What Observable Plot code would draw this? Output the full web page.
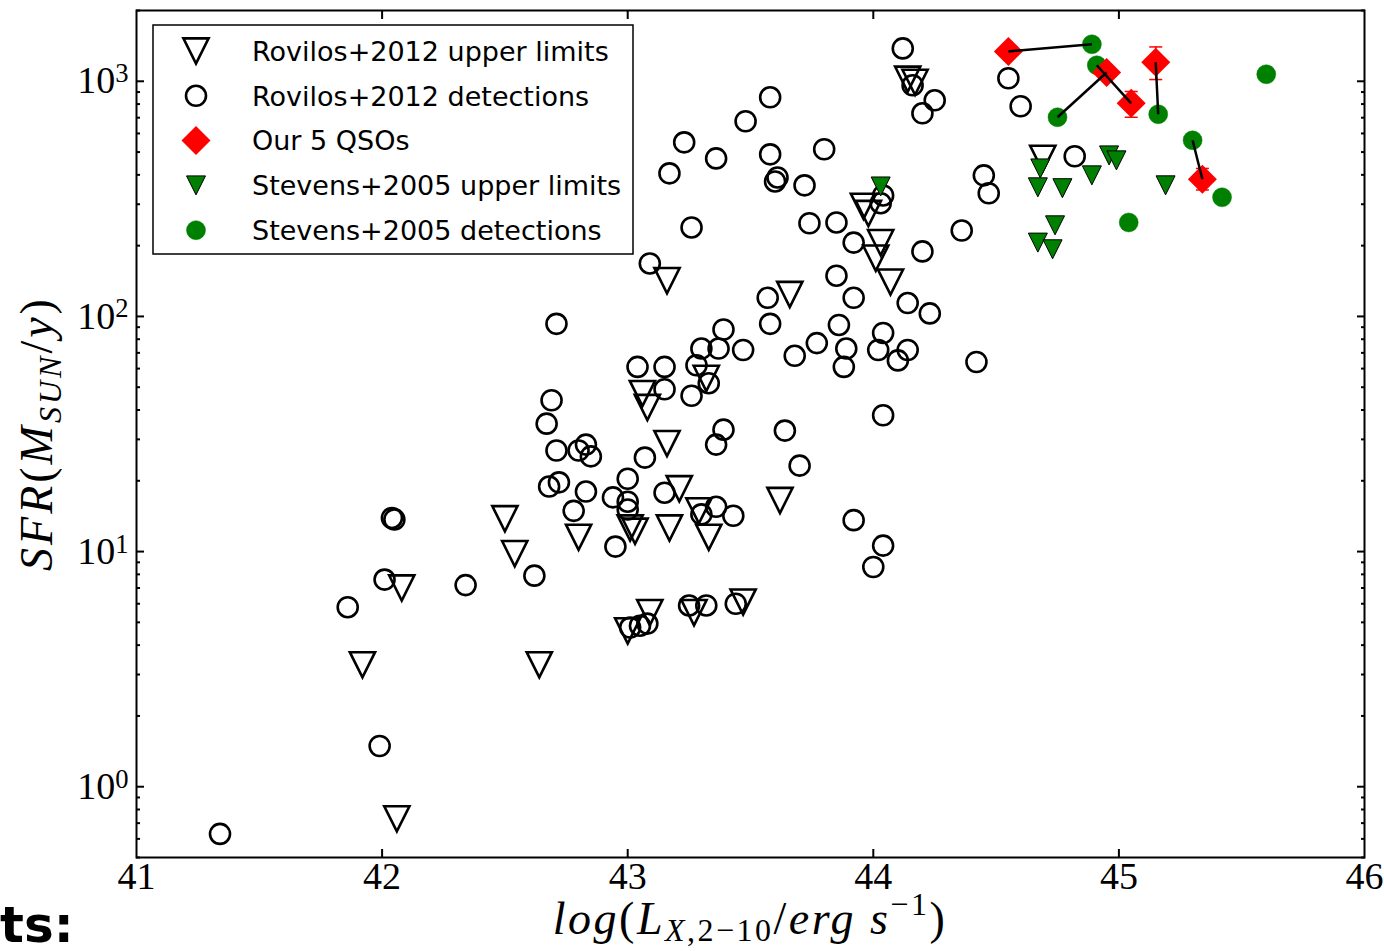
<!DOCTYPE html>
<html>
<head>
<meta charset="utf-8">
<script src="https://cdn.jsdelivr.net/npm/d3@7"></script>
<script src="https://cdn.jsdelivr.net/npm/@observablehq/plot@0.6"></script>
<style>
  body { margin: 0; background: #fff; }
  #chart svg { display: block; }
</style>
</head>
<body>
<div id="chart"></div>
<script>
// ---------------- DATA ----------------
// x: log(L_X,2-10 / erg s^-1), y: SFR (M_sun / yr)
const rovilosUL_logLx = [42.06, 41.92, 42.64, 42.08, 42.50, 42.54, 42.80, 43.00, 43.09, 43.27, 43.47,
  43.01, 43.03, 43.17, 43.29, 43.33, 43.21, 43.16, 43.06, 43.08, 43.32, 43.62, 43.16, 43.66,
  43.96, 43.98, 44.03, 44.01, 44.07, 44.14, 44.17, 44.69];
const rovilosUL_sfr = [0.73, 3.3, 3.3, 7.0, 13.8, 9.8, 11.5, 4.6, 5.5, 5.5, 6.1,
  12.6, 12.2, 12.6, 14.9, 11.5, 18.5, 28.8, 47, 41, 54.5, 16.5, 142, 124,
  294, 274, 206, 177, 140, 1020, 990, 470];

const rovilosDet_logLx = [41.34, 41.99, 41.86, 42.01, 42.04, 42.05, 42.34, 42.62, 42.71, 42.69, 42.67,
  42.71, 42.80, 42.83, 42.85, 42.68, 42.72, 42.83, 42.78, 43.00, 42.94, 43.00, 43.00, 42.95,
  43.07, 43.15, 43.04, 43.15, 43.15, 43.26, 43.28, 43.30, 43.37, 43.39, 43.47, 43.33, 43.39,
  43.36, 43.36, 43.30, 43.43, 43.01, 43.05, 43.08, 43.25, 43.32, 43.44, 43.57, 43.58, 43.64,
  43.70, 43.68, 43.77, 43.86, 43.89, 43.88, 43.92, 44.04, 44.02, 44.10, 44.14, 44.14, 44.23,
  44.42, 44.04, 43.92, 44.04, 44.00, 43.58, 43.48, 43.23, 43.36, 43.17, 43.58, 43.61, 43.60,
  43.72, 43.80, 43.26, 43.74, 43.85, 43.92, 43.09, 43.85, 44.04, 44.03, 44.12, 44.16, 44.25,
  44.20, 44.55, 44.60, 44.45, 44.47, 44.36, 44.20, 44.82];
const rovilosDet_sfr = [0.63, 1.49, 5.8, 7.6, 13.9, 13.7, 7.2, 7.9, 93, 44, 35,
  26.9, 26.9, 28.5, 25.4, 18.9, 19.7, 18.0, 14.9, 20.4, 17.0, 16.3, 15.1, 10.5,
  25.1, 17.8, 61, 61, 49, 46, 62, 73, 73, 88, 72, 52, 33,
  28.5, 15.5, 14.4, 14.2, 4.75, 4.84, 4.94, 5.9, 5.9, 6.0, 120, 93, 32.7,
  23.2, 68, 77, 92, 73, 61, 120, 85, 72, 65, 72, 114, 103,
  64, 38, 13.6, 10.6, 8.6, 855, 676, 550, 470, 406, 489, 390, 375,
  361, 514, 239, 249, 251, 206, 168, 149, 327, 303, 1380, 962, 830,
  731, 1030, 783, 398, 334, 232, 189, 480];

const qso_logLx = [44.55, 44.95, 45.05, 45.15, 45.34];
const qso_sfr   = [1340, 1090, 806, 1205, 383];
const qso_errLo = [null, null, 703, 1017, 345];
const qso_errHi = [null, null, 905, 1400, 426];
const qso_stevensMatch = [0, 2, 1, 3, 4]; // index into Stevens detections

const stevensUL_logLx = [44.03, 44.68, 44.67, 44.77, 44.89, 44.96, 44.99, 45.19, 44.74, 44.67, 44.73];
const stevensUL_sfr   = [357, 426, 354, 351, 398, 484, 461, 361, 244, 206, 193];

const stevensDet_logLx = [44.89, 44.91, 44.75, 45.16, 45.30, 45.60, 45.42, 45.04];
const stevensDet_sfr   = [1436, 1170, 703, 724, 561, 1071, 321, 251];

const xTickValues = [41, 42, 43, 44, 45, 46];
const yMajorTicks = [1, 10, 100, 1000];
const legendLabels = ["Rovilos+2012 upper limits", "Rovilos+2012 detections", "Our 5 QSOs",
  "Stevens+2005 upper limits", "Stevens+2005 detections"];

// ---------------- tables ----------------
const rovUL = rovilosUL_logLx.map((x, i) => ({x, y: rovilosUL_sfr[i]}));
const rovDet = rovilosDet_logLx.map((x, i) => ({x, y: rovilosDet_sfr[i]}));
const stUL = stevensUL_logLx.map((x, i) => ({x, y: stevensUL_sfr[i]}));
const stDet = stevensDet_logLx.map((x, i) => ({x, y: stevensDet_sfr[i]}));
const qso = qso_logLx.map((x, i) => ({x, y: qso_sfr[i], lo: qso_errLo[i], hi: qso_errHi[i]}));
const qsoErr = qso.filter(d => d.lo != null);
const qsoCaps = qsoErr.flatMap(d => [{x: d.x, y: d.lo}, {x: d.x, y: d.hi}]);
const links = qso.map((d, i) => ({x1: d.x, y1: d.y, x2: stDet[qso_stevensMatch[i]].x, y2: stDet[qso_stevensMatch[i]].y}));

const yMinorTicks = [];
for (const dec of [0.1, 1, 10, 100, 1000]) for (let k = 2; k <= 9; k++) {
  const v = +(dec * k).toPrecision(3);
  if (v >= 0.5 && v <= 2000) yMinorTicks.push(v);
}

// ---------------- custom symbols ----------------
const triDown = {draw(ctx, size) { const r = Math.sqrt(size / Math.PI);
  ctx.moveTo(-r, -r); ctx.lineTo(r, -r); ctx.lineTo(0, r); ctx.closePath(); }};
const diamond = {draw(ctx, size) { const r = Math.sqrt(size / Math.PI);
  ctx.moveTo(0, -r); ctx.lineTo(r, 0); ctx.lineTo(0, r); ctx.lineTo(-r, 0); ctx.closePath(); }};
const hbar = {draw(ctx, size) { const r = Math.sqrt(size / Math.PI);
  ctx.moveTo(-r, 0); ctx.lineTo(r, 0); }};
const circ = {draw(ctx, size) { const r = Math.sqrt(size / Math.PI);
  ctx.moveTo(r, 0); ctx.arc(0, 0, r, 0, 2 * Math.PI); }};

const GREEN = "#008000", RED = "#ff0000";
const W = 1384, H = 951, ML = 136, MR = 20, MT = 10, MB = 94;
const noText = () => "";

const plot = Plot.plot({
  width: W, height: H,
  marginLeft: ML, marginRight: MR, marginTop: MT, marginBottom: MB,
  x: {domain: [41, 46]},
  y: {type: "log", domain: [0.5, 2000]},
  style: {fontFamily: "'Liberation Serif', serif", color: "#000", background: "#fff"},
  marks: [
    Plot.dot(rovUL, {x: "x", y: "y", symbol: triDown, r: 12.6, stroke: "#000", strokeWidth: 2.6, fill: "none"}),
    Plot.dot(rovDet, {x: "x", y: "y", symbol: circ, r: 10, stroke: "#000", strokeWidth: 2.6, fill: "none"}),
    Plot.dot(stUL, {x: "x", y: "y", symbol: triDown, r: 9.5, fill: GREEN, stroke: "#000", strokeWidth: 1}),
    Plot.dot(stDet, {x: "x", y: "y", symbol: circ, r: 9.5, fill: GREEN, stroke: GREEN, strokeWidth: 0.5}),
    Plot.ruleX(qsoErr, {x: "x", y1: "lo", y2: "hi", stroke: RED, strokeWidth: 1.5}),
    Plot.dot(qsoCaps, {x: "x", y: "y", symbol: hbar, r: 6.5, stroke: RED, strokeWidth: 1.5}),
    Plot.dot(qso, {x: "x", y: "y", symbol: diamond, r: 14.5, fill: RED}),
    Plot.link(links, {x1: "x1", y1: "y1", x2: "x2", y2: "y2", stroke: "#000", strokeWidth: 2.5}),
    // ticks (inward, on all sides)
    Plot.axisX(xTickValues.slice(1, -1), {anchor: "bottom", tickSize: -8, strokeWidth: 2, tickFormat: noText, label: null}),
    Plot.axisX(xTickValues.slice(1, -1), {anchor: "top", tickSize: -8, strokeWidth: 2, tickFormat: noText, label: null}),
    Plot.axisY(yMajorTicks, {anchor: "left", tickSize: -8, strokeWidth: 2, tickFormat: noText, label: null}),
    Plot.axisY(yMajorTicks, {anchor: "right", tickSize: -8, strokeWidth: 2, tickFormat: noText, label: null}),
    Plot.axisY(yMinorTicks, {anchor: "left", tickSize: -4, strokeWidth: 2, tickFormat: noText, label: null}),
    Plot.axisY(yMinorTicks, {anchor: "right", tickSize: -4, strokeWidth: 2, tickFormat: noText, label: null}),
    // tick labels
    Plot.axisX(xTickValues, {anchor: "bottom", tickSize: 0, tickPadding: 5, fontSize: 38, tickFormat: d => String(d), label: null}),
    Plot.axisY(yMajorTicks, {anchor: "left", tickSize: 0, tickPadding: 8, fontSize: 38, tickFormat: d => String(Math.round(Math.log10(d))), label: null}),
    Plot.frame({stroke: "#000", strokeWidth: 2})
  ]
});

document.getElementById("chart").appendChild(plot);
const svg = d3.select(plot);

// drop empty tick texts of the tick-only axes
svg.selectAll('g[aria-label$="tick label"] text').each(function() {
  if (d3.select(this).text() === "") d3.select(this).remove();
});

// superscript powers of ten on the y tick labels
svg.selectAll('g[aria-label="y-axis tick label"] text').each(function() {
  const t = d3.select(this);
  const e = t.text();
  t.text("");
  t.append("tspan").text("10");
  t.append("tspan").attr("dy", "-0.42em").attr("font-size", "0.7em").text(e);
});

// axis labels (math-style)
const xl = svg.append("text")
  .attr("x", ML + (W - ML - MR) / 2).attr("y", 934)
  .attr("text-anchor", "middle").attr("font-family", "'Liberation Serif', serif")
  .attr("font-size", 46).attr("letter-spacing", 2.5).attr("fill", "#000");
xl.append("tspan").attr("font-style", "italic").text("log");
xl.append("tspan").text("(");
xl.append("tspan").attr("font-style", "italic").text("L");
xl.append("tspan").attr("dy", 7).attr("font-size", 32).attr("font-style", "italic").text("X");
xl.append("tspan").attr("font-size", 32).text(",2\u221210");
xl.append("tspan").attr("dy", -7).text("/");
xl.append("tspan").attr("font-style", "italic").text("erg s");
xl.append("tspan").attr("dy", -19).attr("font-size", 32).text("\u22121");
xl.append("tspan").attr("dy", 19).text(")");

const yl = svg.append("text")
  .attr("transform", `translate(52,${MT + (H - MT - MB) / 2}) rotate(-90)`)
  .attr("text-anchor", "middle").attr("font-family", "'Liberation Serif', serif")
  .attr("font-size", 46).attr("letter-spacing", 3).attr("fill", "#000");
yl.append("tspan").attr("font-style", "italic").text("SFR");
yl.append("tspan").text("(");
yl.append("tspan").attr("font-style", "italic").text("M");
yl.append("tspan").attr("dy", 9).attr("font-size", 32).attr("font-style", "italic").text("SUN");
yl.append("tspan").attr("dy", -9).text("/");
yl.append("tspan").attr("font-style", "italic").text("y");
yl.append("tspan").text(")");

// legend (inside the plot frame, upper left)
const legendStyles = [
  {sym: triDown, r: 12.6, fill: "none", stroke: "#000", sw: 2.6},
  {sym: circ, r: 10, fill: "none", stroke: "#000", sw: 2.6},
  {sym: diamond, r: 14.5, fill: RED, stroke: "none", sw: 0},
  {sym: triDown, r: 9.5, fill: GREEN, stroke: "#000", sw: 1},
  {sym: circ, r: 9.5, fill: GREEN, stroke: GREEN, sw: 0.5}
];
const lg = svg.append("g");
lg.append("rect").attr("x", 153).attr("y", 25).attr("width", 480).attr("height", 229)
  .attr("fill", "#fff").attr("stroke", "#000").attr("stroke-width", 1.5);
legendLabels.forEach((label, i) => {
  const cy = 51 + i * 44.8;
  const s = legendStyles[i];
  lg.append("path")
    .attr("d", d3.symbol(s.sym, Math.PI * s.r * s.r)())
    .attr("transform", `translate(196,${cy})`)
    .attr("fill", s.fill).attr("stroke", s.stroke).attr("stroke-width", s.sw);
  lg.append("text").attr("x", 252).attr("y", cy).attr("dy", "0.36em")
    .attr("text-anchor", "start")
    .attr("font-family", "'DejaVu Sans', sans-serif").attr("font-size", 27)
    .attr("fill", "#000").text(label);
});

// slide fragment at lower left
svg.append("text").attr("x", 0).attr("y", 942).attr("text-anchor", "start")
  .attr("font-family", "'DejaVu Sans', sans-serif").attr("font-weight", "bold")
  .attr("font-size", 50).attr("fill", "#000").text("ts:");
</script>
</body>
</html>
